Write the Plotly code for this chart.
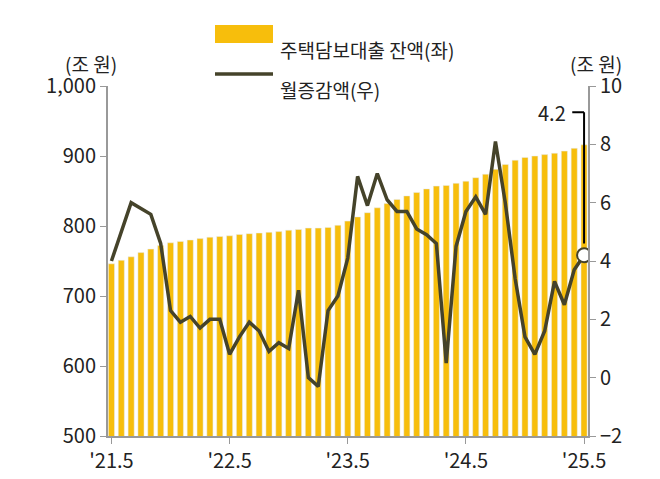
import plotly.graph_objects as go

months = list(range(49))
tick_vals = [0, 12, 24, 36, 48]
tick_text = ["'21.5", "'22.5", "'23.5", "'24.5", "'25.5"]

balance = [746, 751, 756, 762, 767, 772, 776, 778, 780, 782, 784, 785,
           786, 788, 789, 790, 791, 792, 794, 795, 797, 797, 798, 801,
           807, 813, 819, 826, 832, 838, 843, 848, 853, 857, 858, 861,
           864, 869, 874, 881, 888, 894, 898, 900, 902, 904, 907, 911, 916]
change = [4.0, 5.0, 6.0, 5.8, 5.6, 4.6, 2.3, 1.9, 2.1, 1.7, 2.0, 2.0,
          0.8, 1.4, 1.9, 1.6, 0.9, 1.2, 1.0, 3.0, 0.0, -0.3, 2.3, 2.8,
          4.1, 6.9, 5.9, 7.0, 6.1, 5.7, 5.7, 5.1, 4.9, 4.6, 0.5, 4.5,
          5.7, 6.2, 5.6, 8.1, 6.0, 3.4, 1.4, 0.8, 1.6, 3.3, 2.5, 3.7, 4.2]

bar_color = "#F7BE0C"
line_color = "#45432A"
font = "Noto Sans CJK KR"

fig = go.Figure()
fig.add_trace(go.Bar(x=months, y=balance, marker_color=bar_color, width=0.62))
fig.add_trace(go.Scatter(x=months, y=change, yaxis="y2", mode="lines",
                         line=dict(color=line_color, width=3.5)))
fig.add_trace(go.Scatter(x=[months[-1]], y=[change[-1]], yaxis="y2", mode="markers",
                         marker=dict(size=14, color="white",
                                     line=dict(color=line_color, width=2))))


def px_x(p):
    return (p - 100) / 480


def px_y(p):
    return (428 - p) / 350


# hand-made legend
fig.add_shape(type="rect", xref="paper", yref="paper", x0=px_x(207), x1=px_x(265),
              y0=px_y(35), y1=px_y(17), fillcolor=bar_color, line_width=0)
fig.add_shape(type="line", xref="paper", yref="paper", x0=px_x(207), x1=px_x(265),
              y0=px_y(66), y1=px_y(66), line=dict(color=line_color, width=3.5))
for txt, yy in [("주택담보대출 잔액(좌)", 26), ("월증감액(우)", 66)]:
    fig.add_annotation(x=px_x(270), y=px_y(yy), xref="paper", yref="paper", text=txt,
                       showarrow=False, xanchor="left", font=dict(size=19, color="#222"))

# leader line to the last value
fig.add_shape(type="line", xref="x", yref="y2", x0=48, x1=48, y0=4.6, y1=9.1,
              line=dict(color="black", width=2))
fig.add_shape(type="line", xref="x", yref="y2", x0=46.8, x1=48, y0=9.1, y1=9.1,
              line=dict(color="black", width=2))
fig.add_annotation(x=46.4, y=9.1, xref="x", yref="y2", text=f"{change[-1]}",
                   showarrow=False, xanchor="right", font=dict(size=20, color="#222"))

fig.add_annotation(x=px_x(55), y=px_y(40), xref="paper", yref="paper", text="(조 원)",
                   showarrow=False, font=dict(size=19, color="#222"))
fig.add_annotation(x=px_x(616), y=px_y(40), xref="paper", yref="paper", text="(조 원)",
                   showarrow=False, font=dict(size=19, color="#222"))

axis_style = dict(showline=True, linecolor="#999", linewidth=2, ticks="outside",
                  tickcolor="#999", ticklen=6, showgrid=False, zeroline=False,
                  automargin=False, tickfont=dict(size=20, color="#222"))
fig.update_layout(
    width=660, height=479, plot_bgcolor="white", paper_bgcolor="white",
    margin=dict(l=100, r=80, t=78, b=51),
    font=dict(family=font, color="#222"),
    showlegend=False,
    xaxis=dict(range=[-0.35, 48.4], tickvals=tick_vals, ticktext=tick_text, **axis_style),
    yaxis=dict(range=[500, 1000], dtick=100, tickformat=",", **axis_style),
    yaxis2=dict(range=[-2, 10], dtick=2, overlaying="y", side="right", **axis_style),
)
fig.write_html("out.html")
